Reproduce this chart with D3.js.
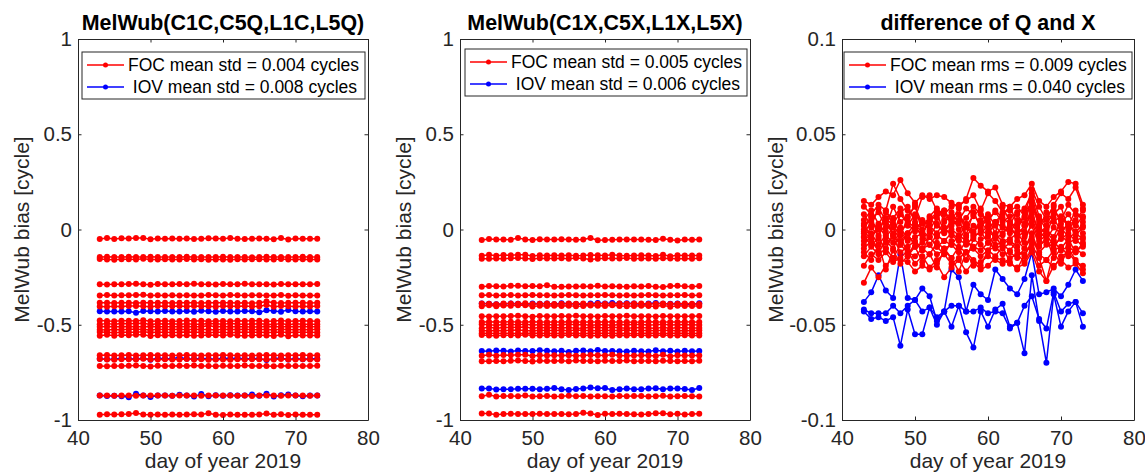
<!DOCTYPE html>
<html>
<head>
<meta charset="utf-8">
<script src="https://cdn.jsdelivr.net/npm/d3@7"></script>
<style>
  html, body { margin: 0; padding: 0; background: #fff; }
  svg { display: block; font-family: "Liberation Sans", Arial, Helvetica, sans-serif; }
</style>
</head>
<body>
<svg id="chart" width="1145" height="476"></svg>
<script>
// ---- data ---------------------------------------------------------------
const days = [43,44,45,46,47,48,49,50,51,52,53,54,55,56,57,58,59,60,61,62,63,64,65,66,67,68,69,70,71,72,73];

const xTicks = [40, 50, 60, 70, 80];
const xTickLabels = ["40", "50", "60", "70", "80"];
const biasTicks = [-1, -0.5, 0, 0.5, 1];
const biasTickLabels = ["-1", "-0.5", "0", "0.5", "1"];
const diffTicks = [-0.1, -0.05, 0, 0.05, 0.1];
const diffTickLabels = ["-0.1", "-0.05", "0", "0.05", "0.1"];

const panelTitles = ["MelWub(C1C,C5Q,L1C,L5Q)", "MelWub(C1X,C5X,L1X,L5X)", "difference of Q and X"];
const focLabels = ["FOC mean std = 0.004 cycles", "FOC mean std = 0.005 cycles", "FOC mean rms = 0.009 cycles"];
const iovLabels = [" IOV mean std = 0.008 cycles", " IOV mean std = 0.006 cycles", " IOV mean rms = 0.040 cycles"];
const xLabel = "day of year 2019";
const yLabel = "MelWub bias [cycle]";

// Melbourne-Wübbena bias per satellite, Q signal combination (FOC)
const focQ = [
  [-.050,-.045,-.050,-.046,-.047,-.045,-.044,-.051,-.047,-.048, -.047,-.049,-.047,-.050,-.049,-.046,-.047,-.049,-.045,-.048, -.050,-.048,-.047,-.049,-.051,-.045,-.052,-.047,-.049,-.049, -.049],
  [-.144,-.143,-.145,-.144,-.143,-.145,-.144,-.143,-.144,-.144, -.145,-.144,-.143,-.144,-.145,-.144,-.144,-.143,-.144,-.145, -.144,-.146,-.144,-.143,-.144,-.145,-.144,-.144,-.143,-.145, -.144],
  [-.155,-.157,-.159,-.156,-.156,-.157,-.154,-.158,-.157,-.156, -.158,-.157,-.155,-.157,-.156,-.159,-.157,-.157,-.159,-.156, -.157,-.156,-.156,-.158,-.157,-.155,-.158,-.157,-.156,-.157, -.158],
  [-.288,-.289,-.287,-.288,-.286,-.285,-.287,-.290,-.286,-.287, -.287,-.286,-.288,-.285,-.287,-.287,-.289,-.286,-.287,-.287, -.285,-.288,-.287,-.287,-.289,-.286,-.287,-.288,-.287,-.288, -.286],
  [-.347,-.344,-.347,-.345,-.345,-.344,-.343,-.347,-.345,-.346, -.345,-.346,-.345,-.347,-.346,-.344,-.345,-.346,-.344,-.345, -.347,-.345,-.345,-.346,-.347,-.344,-.348,-.345,-.346,-.346, -.346],
  [-.385,-.384,-.386,-.385,-.384,-.386,-.385,-.384,-.385,-.385, -.386,-.385,-.384,-.385,-.386,-.385,-.385,-.384,-.385,-.386, -.385,-.387,-.385,-.378,-.385,-.386,-.385,-.385,-.384,-.386, -.385],
  [-.404,-.405,-.403,-.404,-.402,-.401,-.403,-.406,-.402,-.403, -.403,-.402,-.404,-.401,-.403,-.403,-.405,-.402,-.403,-.403, -.401,-.404,-.403,-.396,-.405,-.402,-.403,-.404,-.403,-.404, -.402],
  [-.478,-.480,-.482,-.479,-.479,-.480,-.477,-.481,-.480,-.479, -.481,-.480,-.478,-.480,-.479,-.482,-.480,-.480,-.482,-.479, -.480,-.479,-.479,-.481,-.480,-.478,-.481,-.480,-.479,-.480, -.481],
  [-.498,-.493,-.498,-.494,-.495,-.493,-.492,-.499,-.495,-.496, -.495,-.497,-.495,-.498,-.497,-.494,-.495,-.497,-.493,-.496, -.498,-.496,-.495,-.497,-.499,-.493,-.500,-.495,-.497,-.497, -.497],
  [-.510,-.509,-.511,-.510,-.509,-.511,-.510,-.509,-.510,-.510, -.511,-.510,-.509,-.510,-.511,-.505,-.510,-.509,-.510,-.511, -.510,-.512,-.510,-.509,-.510,-.511,-.510,-.510,-.509,-.511, -.510],
  [-.526,-.527,-.525,-.526,-.524,-.523,-.525,-.528,-.524,-.525, -.525,-.524,-.526,-.523,-.525,-.525,-.527,-.524,-.525,-.525, -.523,-.526,-.525,-.525,-.527,-.524,-.525,-.526,-.525,-.526, -.524],
  [-.538,-.540,-.542,-.539,-.539,-.540,-.537,-.541,-.540,-.539, -.541,-.540,-.538,-.540,-.539,-.542,-.540,-.540,-.542,-.539, -.540,-.539,-.539,-.541,-.540,-.538,-.541,-.540,-.539,-.540, -.541],
  [-.558,-.553,-.558,-.554,-.555,-.553,-.552,-.559,-.555,-.556, -.555,-.557,-.555,-.558,-.557,-.554,-.555,-.557,-.553,-.556, -.558,-.556,-.555,-.557,-.559,-.553,-.560,-.555,-.557,-.557, -.557],
  [-.660,-.659,-.661,-.660,-.659,-.661,-.660,-.659,-.660,-.660, -.661,-.660,-.659,-.660,-.661,-.660,-.660,-.659,-.660,-.661, -.660,-.662,-.660,-.659,-.660,-.661,-.660,-.660,-.659,-.661, -.660],
  [-.680,-.682,-.684,-.681,-.681,-.682,-.679,-.683,-.682,-.681, -.683,-.682,-.680,-.682,-.681,-.684,-.682,-.682,-.684,-.681, -.682,-.681,-.681,-.683,-.682,-.680,-.683,-.682,-.681,-.682, -.683],
  [-.717,-.718,-.716,-.717,-.715,-.714,-.716,-.719,-.715,-.716, -.716,-.715,-.717,-.714,-.716,-.716,-.718,-.715,-.716,-.716, -.714,-.717,-.716,-.716,-.718,-.715,-.716,-.717,-.716,-.717, -.715],
  [-.872,-.871,-.873,-.872,-.871,-.873,-.872,-.871,-.872,-.872, -.873,-.872,-.871,-.872,-.873,-.872,-.872,-.871,-.872,-.873, -.872,-.874,-.872,-.871,-.872,-.873,-.872,-.872,-.871,-.873, -.872],
  [-.972,-.970,-.971,-.970,-.969,-.963,-.971,-.973,-.971,-.972, -.971,-.972,-.971,-.970,-.971,-.964,-.972,-.974,-.971,-.972, -.973,-.972,-.971,-.966,-.973,-.970,-.974,-.971,-.972,-.972, -.972]
];

// Q signal combination (IOV)
const iovQ = [
  [-.429,-.430,-.431,-.431,-.429,-.437,-.428,-.429,-.430,-.428, -.431,-.430,-.428,-.432,-.427,-.429,-.432,-.428,-.430,-.431, -.428,-.429,-.435,-.424,-.428,-.432,-.422,-.429,-.431,-.429, -.430],
  [-.679,-.681,-.680,-.677,-.678,-.680,-.676,-.684,-.676,-.679, -.677,-.672,-.678,-.680,-.677,-.679,-.681,-.675,-.678,-.674, -.680,-.677,-.679,-.685,-.678,-.674,-.683,-.677,-.681,-.678, -.678],
  [-.872,-.874,-.873,-.875,-.880,-.862,-.871,-.879,-.872,-.872, -.873,-.868,-.872,-.877,-.864,-.875,-.870,-.873,-.870,-.872, -.871,-.866,-.873,-.862,-.877,-.870,-.866,-.872,-.875,-.872, -.871]
];

// X signal combination (FOC)
const focX = [
  [-.055,-.050,-.053,-.053,-.054,-.044,-.053,-.055,-.051,-.053, -.052,-.051,-.052,-.054,-.053,-.045,-.056,-.055,-.054,-.053, -.052,-.053,-.053,-.054,-.055,-.049,-.054,-.058,-.052,-.054, -.053],
  [-.138,-.133,-.138,-.134,-.135,-.133,-.132,-.139,-.135,-.136, -.135,-.137,-.135,-.138,-.137,-.134,-.135,-.137,-.133,-.136, -.138,-.136,-.135,-.137,-.139,-.133,-.140,-.135,-.137,-.137, -.137],
  [-.153,-.154,-.152,-.153,-.151,-.150,-.152,-.155,-.151,-.152, -.152,-.151,-.153,-.150,-.152,-.158,-.154,-.151,-.152,-.152, -.150,-.153,-.152,-.152,-.154,-.151,-.152,-.153,-.152,-.153, -.151],
  [-.300,-.297,-.298,-.299,-.295,-.295,-.298,-.296,-.298,-.292, -.301,-.300,-.299,-.299,-.298,-.299,-.295,-.299,-.298,-.299, -.300,-.298,-.299,-.297,-.300,-.302,-.296,-.295,-.298,-.300, -.297],
  [-.345,-.344,-.346,-.345,-.344,-.346,-.345,-.344,-.345,-.345, -.346,-.345,-.344,-.345,-.346,-.345,-.345,-.344,-.345,-.346, -.345,-.347,-.345,-.344,-.345,-.346,-.345,-.345,-.344,-.346, -.345],
  [-.388,-.390,-.392,-.389,-.389,-.390,-.387,-.391,-.390,-.389, -.391,-.390,-.388,-.390,-.389,-.392,-.390,-.390,-.392,-.389, -.390,-.389,-.389,-.391,-.390,-.388,-.391,-.390,-.389,-.390, -.391],
  [-.403,-.398,-.403,-.399,-.400,-.398,-.397,-.404,-.400,-.401, -.400,-.402,-.400,-.403,-.402,-.399,-.400,-.402,-.398,-.401, -.403,-.401,-.400,-.402,-.404,-.398,-.405,-.400,-.402,-.402, -.402],
  [-.456,-.457,-.455,-.456,-.454,-.453,-.455,-.458,-.454,-.455, -.455,-.454,-.456,-.453,-.455,-.455,-.457,-.454,-.455,-.455, -.453,-.456,-.455,-.455,-.457,-.454,-.455,-.456,-.455,-.456, -.454],
  [-.485,-.484,-.486,-.485,-.484,-.486,-.485,-.484,-.485,-.485, -.486,-.485,-.484,-.485,-.486,-.485,-.485,-.484,-.485,-.486, -.485,-.487,-.485,-.484,-.485,-.486,-.485,-.485,-.484,-.486, -.485],
  [-.498,-.500,-.502,-.499,-.499,-.500,-.497,-.501,-.500,-.499, -.501,-.500,-.498,-.500,-.499,-.502,-.500,-.500,-.502,-.499, -.500,-.499,-.499,-.501,-.500,-.498,-.501,-.500,-.499,-.500, -.501],
  [-.518,-.513,-.518,-.514,-.515,-.513,-.512,-.519,-.515,-.516, -.515,-.517,-.515,-.518,-.517,-.514,-.515,-.517,-.513,-.516, -.518,-.516,-.515,-.517,-.519,-.513,-.520,-.515,-.517,-.517, -.517],
  [-.531,-.532,-.530,-.531,-.529,-.528,-.530,-.533,-.529,-.530, -.530,-.529,-.531,-.528,-.530,-.530,-.532,-.529,-.530,-.530, -.528,-.531,-.530,-.530,-.532,-.529,-.530,-.531,-.530,-.531, -.529],
  [-.545,-.544,-.546,-.545,-.544,-.546,-.545,-.544,-.545,-.545, -.546,-.545,-.544,-.545,-.546,-.545,-.545,-.544,-.545,-.546, -.545,-.547,-.545,-.544,-.545,-.546,-.545,-.545,-.544,-.546, -.545],
  [-.554,-.556,-.558,-.555,-.555,-.556,-.553,-.557,-.556,-.555, -.557,-.556,-.554,-.556,-.555,-.558,-.556,-.556,-.558,-.555, -.556,-.555,-.555,-.557,-.556,-.554,-.557,-.556,-.555,-.556, -.557],
  [-.663,-.658,-.663,-.659,-.660,-.658,-.657,-.664,-.660,-.661, -.660,-.662,-.660,-.663,-.662,-.659,-.660,-.662,-.658,-.661, -.663,-.661,-.660,-.662,-.664,-.658,-.665,-.660,-.662,-.662, -.662],
  [-.691,-.692,-.690,-.691,-.689,-.688,-.690,-.693,-.689,-.690, -.690,-.689,-.691,-.688,-.690,-.690,-.692,-.689,-.690,-.690, -.688,-.691,-.690,-.690,-.692,-.689,-.690,-.691,-.690,-.691, -.689],
  [-.875,-.868,-.877,-.874,-.874,-.875,-.872,-.876,-.875,-.874, -.876,-.875,-.873,-.875,-.874,-.877,-.875,-.875,-.877,-.874, -.875,-.874,-.874,-.876,-.875,-.873,-.876,-.875,-.874,-.875, -.876],
  [-.966,-.966,-.972,-.968,-.967,-.968,-.969,-.968,-.967,-.969, -.968,-.968,-.970,-.969,-.962,-.966,-.974,-.967,-.969,-.967, -.968,-.970,-.971,-.968,-.964,-.965,-.970,-.967,-.971,-.969, -.967]
];

// X signal combination (IOV)
const iovX = [
  [-.388,-.390,-.393,-.391,-.388,-.390,-.393,-.388,-.390,-.389, -.392,-.387,-.390,-.391,-.394,-.388,-.386,-.389,-.386,-.389, -.387,-.388,-.394,-.389,-.386,-.390,-.390,-.388,-.392,-.394, -.387],
  [-.638,-.639,-.635,-.637,-.640,-.635,-.638,-.638,-.634,-.637, -.639,-.637,-.643,-.636,-.635,-.639,-.633,-.638,-.638,-.639, -.641,-.636,-.639,-.640,-.634,-.639,-.637,-.641,-.637,-.639, -.638],
  [-.834,-.834,-.840,-.838,-.838,-.836,-.836,-.836,-.838,-.836, -.832,-.838,-.842,-.837,-.834,-.830,-.833,-.832,-.842,-.838, -.835,-.839,-.838,-.834,-.833,-.839,-.835,-.834,-.837,-.842, -.832]
];

// Q minus X per satellite (FOC)
const focDiff = [
  [.015,.013,.017,.020,.018,.026,.019,.014,.018,.016, .018,.017,.014,.012,.016,.027,.023,.020,.022,.013, .012,.016,.018,.024,.015,.012,.017,.020,.025,.024, .013],
  [.012,.008,.013,.010,.024,.016,.010,.006,.017,.018, .010,.008,.012,.013,.015,.018,.010,.019,.015,.009, .010,.012,.007,.021,.012,.005,.013,.019,.016,.022, .011],
  [.005,.010,.003,.009,.006,.011,.002,.008,.004,.005, .009,.010,.002,.005,.011,.008,.003,.006,.009,.004, .007,.008,.002,.017,.004,.006,.012,.003,.008,.002, .007],
  [.002,.006,.009,.001,.012,.004,.007,.012,.003,.000, .006,.010,.004,.008,.002,.007,.011,.001,.004,.008, .012,.003,.006,.015,.001,.009,.004,.007,.002,.010, .004],
  [-.002,.004,.000,.006,-.003,.008,.003,-.001,.005,.002, -.002,.004,.007,.000,.003,-.001,.005,.008,.002,-.003, .004,.001,-.002,.012,.006,.000,-.004,.005,.003,-.001, .002],
  [.003,-.004,.002,-.001,.005,-.002,.004,.001,-.003,.006, .002,-.001,.003,.005,-.004,.002,.000,-.003,.004,.001, -.002,.005,.003,.010,-.003,.002,.006,-.001,.003,.004, -.002],
  [-.004,.001,-.003,.003,-.002,.001,-.005,.002,-.001,-.004, .003,-.002,.000,-.003,.002,-.002,.004,-.001,-.004,.002, .000,-.003,.002,.008,-.001,-.005,.001,-.002,.003,-.003, .001],
  [-.001,-.005,.002,-.004,.001,-.006,-.002,.003,-.005,-.001, -.004,.001,-.003,-.006,.001,-.003,-.002,.002,-.005,-.002, .002,-.004,-.001,.006,-.004,-.001,-.006,.001,-.004,-.002, -.005],
  [-.006,-.002,-.008,-.003,-.007,-.001,-.006,-.004,-.002,-.008, -.003,-.006,-.002,-.005,-.008,-.004,-.001,-.007,-.003,-.006, -.005,-.002,-.007,.004,-.006,-.003,-.008,-.005,-.002,-.006, -.004],
  [-.004,-.008,-.005,-.010,-.003,-.008,-.002,-.009,-.007,-.004, -.009,-.006,-.008,-.003,-.006,-.010,-.005,-.004,-.008,-.007, -.006,-.009,-.004,.002,-.008,-.006,-.010,-.003,-.007,-.005, -.009],
  [-.010,-.006,-.011,-.007,-.004,-.012,-.009,-.006,-.010,-.013, -.007,-.010,-.008,-.012,-.006,-.009,-.011,-.007,-.010,-.008, -.011,-.006,-.010,-.002,-.012,-.008,-.006,-.011,-.009,-.012, -.007],
  [-.014,-.009,-.013,-.010,-.015,-.008,-.012,-.014,-.010,-.008, -.013,-.011,-.015,-.009,-.012,-.010,-.014,-.011,-.009,-.013, -.012,-.015,-.010,-.004,-.013,-.016,-.011,-.009,-.014,-.010, -.013],
  [-.019,-.013,-.016,-.012,-.017,-.015,-.011,-.018,-.014,-.020, -.016,-.013,-.018,-.015,-.012,-.019,-.017,-.014,-.016,-.018, -.015,-.013,-.017,-.010,-.019,-.016,-.020,-.014,-.012,-.017, -.019],
  [-.028,-.020,-.025,-.019,-.015,-.016,-.017,-.022,-.019,-.021, -.018,-.025,-.020,-.016,-.022,-.017,-.021,-.019,-.015,-.016, -.018,-.020,-.018,-.012,-.022,-.027,-.019,-.016,-.020,-.018, -.023],
  [.008,.002,.011,.005,.003,.009,.012,.004,.000,.007, .011,.005,.009,.003,.006,.012,.008,.004,.010,.006, .003,.009,.011,.019,.007,.002,.010,.005,.013,.008, .006],
  [-.008,-.003,-.012,-.006,-.010,-.002,-.014,-.007,-.011,-.004, -.009,-.013,-.006,-.010,-.016,-.005,-.008,-.012,-.003,-.010, -.007,-.011,-.014,-.006,-.009,-.004,-.015,-.010,-.005,-.012, -.008],
  [.000,.007,-.004,.010,.002,-.003,.006,.013,-.002,.004, .008,-.001,.005,.011,-.003,.009,.001,.006,-.002,.012, .004,-.001,.009,.014,.002,-.003,.008,.012,.000,.005, .010],
  [-.012,-.016,-.008,-.021,-.011,-.018,-.014,-.009,-.017,-.013, -.020,-.010,-.015,-.022,-.012,-.016,-.019,-.011,-.014,-.009, -.017,-.021,-.013,-.008,-.015,-.027,-.012,-.018,-.010,-.016, -.021]
];

// Q minus X per satellite (IOV)
const iovDiff = [
  [-.038,-.033,-.024,-.032,-.036,-.013,-.036,-.037,-.031,-.035, -.048,-.043,-.021,-.025,-.043,-.029,-.034,-.037,-.021,-.026, -.031,-.034,-.026,-.012,-.034,-.033,-.031,-.035,-.029,-.021, -.027],
  [-.042,-.044,-.044,-.044,-.040,-.044,-.040,-.037,-.043,-.041, -.046,-.043,-.040,-.040,-.043,-.043,-.041,-.044,-.043,-.044, -.052,-.049,-.040,-.035,-.047,-.052,-.033,-.043,-.039,-.038, -.044],
  [-.043,-.047,-.046,-.048,-.046,-.061,-.042,-.055,-.055,-.041, -.050,-.043,-.051,-.040,-.054,-.062,-.043,-.051,-.042,-.039, -.051,-.049,-.065,-.024,-.048,-.070,-.034,-.051,-.043,-.038, -.051]
];

// ---- layout -------------------------------------------------------------
const RED = "#ff0000", BLUE = "#0000ff", AXIS = "#262626";
const plotTop = 39, plotBottom = 420;

const panels = [
  { left: 78,  right: 368,  ticks: biasTicks, labels: biasTickLabels, foc: focQ,    iov: iovQ,    legend: { x: 82,  y: 52, w: 283 } },
  { left: 460, right: 750,  ticks: biasTicks, labels: biasTickLabels, foc: focX,    iov: iovX,    legend: { x: 465, y: 49, w: 282 } },
  { left: 842, right: 1134, ticks: diffTicks, labels: diffTickLabels, foc: focDiff, iov: iovDiff, legend: { x: 844, y: 52, w: 288 } }
];

const svg = d3.select("#chart");

panels.forEach((p, k) => {
  const g = svg.append("g");
  const x = d3.scaleLinear().domain([xTicks[0], xTicks[xTicks.length - 1]]).range([p.left, p.right]);
  const y = d3.scaleLinear().domain([p.ticks[0], p.ticks[p.ticks.length - 1]]).range([plotBottom, plotTop]);

  // data: IOV drawn first, FOC on top
  const line = d3.line().x((d, i) => x(days[i])).y(d => y(d));
  const drawSeries = (series, color) => {
    series.forEach(vals => {
      const s = g.append("g");
      s.append("path").attr("d", line(vals)).attr("fill", "none")
        .attr("stroke", color).attr("stroke-width", 1.5).attr("stroke-linejoin", "round");
      s.selectAll("circle").data(vals).join("circle")
        .attr("cx", (d, i) => x(days[i])).attr("cy", d => y(d))
        .attr("r", 3).attr("fill", color);
    });
  };
  drawSeries(p.iov, BLUE);
  drawSeries(p.foc, RED);

  // axes (ticks inside, box on)
  const styleAxis = sel => {
    sel.selectAll(".domain").attr("stroke", AXIS).attr("stroke-width", 1);
    sel.selectAll(".tick line").attr("stroke", AXIS).attr("stroke-width", 1);
    sel.selectAll(".tick text").attr("fill", AXIS).style("font-size", "20.5px")
      .style("font-family", "'Liberation Sans', Arial, sans-serif");
  };
  g.append("g").attr("transform", `translate(0,${plotBottom})`)
    .call(d3.axisBottom(x).tickValues(xTicks).tickFormat((d, i) => xTickLabels[i])
      .tickSizeInner(-3.5).tickSizeOuter(0).tickPadding(10.5)).call(styleAxis);
  g.append("g").attr("transform", `translate(0,${plotTop})`)
    .call(d3.axisTop(x).tickValues(xTicks).tickFormat("").tickSizeInner(-3.5).tickSizeOuter(0)).call(styleAxis);
  g.append("g").attr("transform", `translate(${p.left},0)`)
    .call(d3.axisLeft(y).tickValues(p.ticks).tickFormat((d, i) => p.labels[i])
      .tickSizeInner(-3.5).tickSizeOuter(0).tickPadding(6)).call(styleAxis);
  g.append("g").attr("transform", `translate(${p.right},0)`)
    .call(d3.axisRight(y).tickValues(p.ticks).tickFormat("").tickSizeInner(-3.5).tickSizeOuter(0)).call(styleAxis);

  // title and axis labels
  const cx = (p.left + p.right) / 2;
  g.append("text").attr("x", cx).attr("y", 30).attr("text-anchor", "middle")
    .style("font-size", "21.4px").style("font-weight", "bold").attr("fill", "#000")
    .text(panelTitles[k]);
  g.append("text").attr("x", cx).attr("y", 467.5).attr("text-anchor", "middle")
    .style("font-size", "21px").attr("fill", AXIS).text(xLabel);
  const ylx = p.left - (k === 2 ? 59 : 49);
  g.append("text").attr("transform", `translate(${ylx},${(plotTop + plotBottom) / 2}) rotate(-90)`)
    .attr("text-anchor", "middle").style("font-size", "21px").attr("fill", AXIS).text(yLabel);

  // legend
  const L = p.legend;
  const lg = g.append("g").attr("transform", `translate(${L.x},${L.y})`);
  lg.append("rect").attr("width", L.w).attr("height", 47).attr("fill", "#fff")
    .attr("stroke", AXIS).attr("stroke-width", 1);
  [[focLabels[k], RED, 13], [iovLabels[k], BLUE, 35]].forEach(([label, color, ry]) => {
    lg.append("line").attr("x1", 5).attr("x2", 42).attr("y1", ry).attr("y2", ry)
      .attr("stroke", color).attr("stroke-width", 1.5);
    lg.append("circle").attr("cx", 23.5).attr("cy", ry).attr("r", 2.5).attr("fill", color);
    lg.append("text").attr("x", 46).attr("y", ry).attr("dy", "0.35em")
      .style("font-size", "17.5px").style("white-space", "pre").attr("fill", "#000").text(label);
  });
});
</script>
</body>
</html>
